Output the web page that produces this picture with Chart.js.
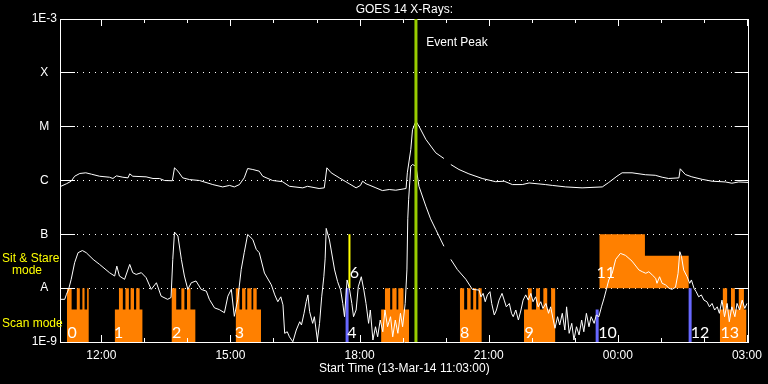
<!DOCTYPE html>
<html>
<head>
<meta charset="utf-8">
<script src="https://cdn.jsdelivr.net/npm/chart.js@4"></script>
<style>
html,body{margin:0;padding:0;background:#000;}
#wrap{width:768px;height:384px;}
</style>
</head>
<body>
<div id="wrap"><canvas id="c" width="768" height="384"></canvas></div>
<script>
// ---- axes ----
const X_MIN = 11.04, X_MAX = 27.04;            // hours since 13-Mar-14 00:00
const xTickHours  = [12,13,14,15,16,17,18,19,20,21,22,23,24,25,26,27];
const xTickLabels = ['12:00','','','15:00','','','18:00','','','21:00','','','00:00','','','03:00'];
const yTickValues = [1e-9,1e-8,1e-7,1e-6,1e-5,1e-4,1e-3];
const yTickLabels = ['1E-9','A','B','C','M','X','1E-3'];

// ---- GOES 14 long channel (1-8 A), [hour, W/m^2] ----
const longChannel = [
 [11.06,7.8e-7],[11.19,8.7e-7],[11.30,9.7e-7],[11.38,1.2e-6],[11.50,1.35e-6],[11.64,1.39e-6],[11.77,1.31e-6],[11.96,1.2e-6],
 [12.19,1.15e-6],[12.27,1.09e-6],[12.35,1.22e-6],[12.50,1.15e-6],[12.62,1.12e-6],[12.66,1.33e-6],[12.73,1.2e-6],[13.04,1.17e-6],
 [13.20,1.09e-6],[13.35,1.09e-6],[13.47,1.0e-6],[13.65,9.9e-7],[13.70,1.72e-6],[13.78,1.49e-6],[13.89,1.12e-6],[14.05,1.04e-6],
 [14.28,1.0e-6],[14.59,8.4e-7],[14.82,7.6e-7],[14.98,8.1e-7],[15.09,7.6e-7],[15.21,8.4e-7],[15.32,1.12e-6],[15.40,1.67e-6],
 [15.52,1.6e-6],[15.67,1.49e-6],[15.75,1.2e-6],[15.98,1.0e-6],[16.21,9.5e-7],[16.37,7.8e-7],[16.68,7.3e-7],[16.79,7.8e-7],
 [17.06,7.1e-7],[17.18,7.3e-7],[17.24,1.72e-6],[17.34,1.39e-6],[17.53,1.12e-6],[17.68,9.5e-7],[17.76,8.7e-7],[17.92,7.3e-7],
 [18.02,8.1e-7],[18.07,9.7e-7],[18.15,8.7e-7],[18.38,7.3e-7],[18.53,6.5e-7],[18.69,6.8e-7],[18.84,6.6e-7],[19.08,7.1e-7],
 [19.11,1.39e-6],[19.19,3.76e-6],[19.23,8.8e-6],[19.31,1.26e-5],[19.38,1.02e-5],[19.54,5.8e-6],[19.77,3.27e-6],[19.96,2.56e-6],
 [20.04,null],[20.12,1.98e-6],[20.31,1.6e-6],[20.54,1.33e-6],[20.85,1.09e-6],[21.16,9.5e-7],[21.36,9.7e-7],[21.55,8.4e-7],
 [21.78,8.4e-7],[21.94,9.0e-7],[22.32,8.4e-7],[22.48,8.1e-7],[22.79,7.6e-7],[23.17,7.3e-7],[23.64,7.6e-7],[23.79,9.2e-7],
 [23.98,1.2e-6],[24.10,1.39e-6],[24.33,1.39e-6],[24.64,1.28e-6],[24.87,1.25e-6],[25.03,1.15e-6],[25.18,1.09e-6],[25.42,1.12e-6],
 [25.45,1.65e-6],[25.57,1.29e-6],[25.72,1.17e-6],[25.96,1.05e-6],[26.19,9.7e-7],[26.50,9.4e-7],[26.65,8.9e-7],[26.81,9.4e-7],
 [27.04,9.2e-7]
];

// ---- GOES 14 short channel (0.5-4 A), [hour, W/m^2] ----
const shortChannel = [
 [11.06,6.2e-9],[11.15,6.2e-9],[11.19,7.7e-9],[11.24,9.5e-9],[11.30,1.46e-8],[11.38,2.97e-8],[11.46,4.56e-8],[11.56,5.0e-8],
 [11.65,4.56e-8],[11.81,3.42e-8],[11.96,2.76e-8],[12.19,1.94e-8],[12.31,1.68e-8],[12.36,2.57e-8],[12.42,1.68e-8],[12.54,1.46e-8],
 [12.66,2.76e-8],[12.73,1.94e-8],[12.81,1.8e-8],[12.93,1.94e-8],[13.04,1.57e-8],[13.16,9.5e-9],[13.28,1.26e-8],[13.39,7.1e-9],
 [13.54,6.2e-9],[13.62,6.7e-9],[13.66,3.42e-8],[13.70,1.1e-7],[13.78,9.3e-8],[13.86,3.42e-8],[13.93,1.68e-8],[14.01,9.5e-9],
 [14.09,1.26e-8],[14.20,1.36e-8],[14.32,9.5e-9],[14.44,8.8e-9],[14.51,6.2e-9],[14.63,4.3e-9],[14.74,4.0e-9],[14.86,3.5e-9],
 [14.94,7.1e-9],[15.02,9.5e-9],[15.09,3.0e-9],[15.17,6.2e-9],[15.25,2.23e-8],[15.32,4.56e-8],[15.40,9.95e-8],[15.52,8.0e-8],
 [15.60,5.25e-8],[15.67,4.56e-8],[15.79,1.91e-8],[15.95,1.15e-8],[16.03,7.5e-9],[16.10,5.6e-9],[16.17,6.9e-9],[16.22,4.9e-9],
 [16.26,1.45e-9],[16.32,1.55e-9],[16.37,1.25e-9],[16.45,1.01e-9],[16.53,1.67e-9],[16.61,2.38e-9],[16.65,2.07e-9],[16.71,3.41e-9],
 [16.76,5.6e-9],[16.80,7.5e-9],[16.84,3.66e-9],[16.91,2.22e-9],[16.95,2.95e-9],[17.02,1.09e-9],[17.07,2.22e-9],[17.12,6.9e-9],
 [17.17,1.63e-8],[17.20,3.5e-8],[17.225,1.29e-7],[17.30,7.85e-8],[17.42,2.18e-8],[17.49,1.32e-8],[17.56,9.2e-9],[17.61,5.2e-9],
 [17.65,2.95e-9],[17.71,1.42e-8],[17.77,9.2e-9],[17.82,5.2e-9],[17.86,2.95e-9],[17.92,3.93e-9],[17.97,1.06e-8],[18.04,1.63e-8],
 [18.10,9.2e-9],[18.15,5.2e-9],[18.21,2.22e-9],[18.25,3.93e-9],[18.31,1.09e-9],[18.37,1.92e-9],[18.42,1.25e-9],[18.48,2.56e-9],
 [18.54,1.55e-9],[18.59,3.93e-9],[18.65,1.92e-9],[18.72,2.95e-9],[18.77,1.25e-9],[18.83,2.56e-9],[18.89,1.45e-9],[18.95,3.41e-9],
 [19.00,1.92e-9],[19.06,5.2e-9],[19.10,2.18e-8],[19.12,1.94e-7],[19.14,4.4e-7],[19.19,1.84e-6],[19.23,1.98e-6],[19.31,1.84e-6],
 [19.38,7.8e-7],[19.54,3.33e-7],[19.65,1.94e-7],[19.77,1.23e-7],[19.96,6.0e-8],[20.04,null],[20.12,3.42e-8],[20.27,2.23e-8],
 [20.47,1.46e-8],[20.62,9.5e-9],[20.78,9.2e-9],[20.82,6.9e-9],[20.87,8.0e-9],[20.92,5.6e-9],[20.97,7.5e-9],[21.03,8.6e-9],
 [21.07,5.2e-9],[21.13,3.17e-9],[21.18,3.93e-9],[21.24,6.0e-9],[21.31,8.0e-9],[21.36,6.0e-9],[21.41,4.5e-9],[21.48,5.2e-9],
 [21.53,3.41e-9],[21.57,2.95e-9],[21.63,3.93e-9],[21.69,2.56e-9],[21.75,3.93e-9],[21.80,6.0e-9],[21.86,7.5e-9],[21.92,6.0e-9],
 [21.98,8.0e-9],[22.03,5.6e-9],[22.09,6.9e-9],[22.15,4.5e-9],[22.21,5.6e-9],[22.26,4.2e-9],[22.33,5.2e-9],[22.39,3.41e-9],
 [22.44,4.5e-9],[22.50,2.56e-9],[22.54,1.8e-9],[22.60,2.95e-9],[22.65,2.07e-9],[22.71,3.41e-9],[22.77,1.67e-9],[22.81,4.5e-9],
 [22.87,1.45e-9],[22.93,2.22e-9],[22.98,1.09e-9],[23.04,1.92e-9],[23.10,1.35e-9],[23.16,2.56e-9],[23.21,1.55e-9],[23.27,3.41e-9],
 [23.33,1.92e-9],[23.38,2.95e-9],[23.45,2.22e-9],[23.50,3.17e-9],[23.56,2.95e-9],[23.62,4.5e-9],[23.68,6.5e-9],[23.73,9.2e-9],
 [23.79,1.42e-8],[23.87,1.89e-8],[23.95,3.42e-8],[24.06,4.43e-8],[24.18,4.06e-8],[24.33,3.18e-8],[24.49,2.18e-8],[24.57,2.02e-8],
 [24.65,1.89e-8],[24.72,2.02e-8],[24.80,1.76e-8],[24.88,1.52e-8],[24.91,1.23e-8],[24.97,1.63e-8],[25.03,1.23e-8],[25.11,1.15e-8],
 [25.19,9.95e-9],[25.26,9.5e-9],[25.34,1.04e-8],[25.40,1.89e-8],[25.44,4.76e-8],[25.48,3.85e-8],[25.53,2.18e-8],[25.61,1.63e-8],
 [25.67,1.23e-8],[25.71,1.42e-8],[25.77,9.95e-9],[25.82,8.6e-9],[25.88,6.9e-9],[25.94,7.5e-9],[26.00,6.0e-9],[26.07,5.6e-9],
 [26.13,4.5e-9],[26.19,5.2e-9],[26.25,3.93e-9],[26.31,4.5e-9],[26.36,3.41e-9],[26.42,6.0e-9],[26.48,2.95e-9],[26.54,5.2e-9],
 [26.59,2.38e-9],[26.65,4.5e-9],[26.72,2.95e-9],[26.77,5.2e-9],[26.83,3.93e-9],[26.89,6.0e-9],[26.95,4.2e-9],[27.00,5.2e-9]
];

// ---- IRIS observation timeline ----
const BASE_LEVEL = 1e-9, SCAN_LEVEL = 4e-9, RASTER_LEVEL = 1e-8;
const scanWindows = [[11.20,11.71],[12.31,12.96],[13.63,14.19],[15.12,15.71],[18.50,19.15],[20.33,20.84],[21.82,22.55],[26.37,26.99]];
const rasterSteps = [
 [[11.20,11.31],[11.43,11.50],[11.56,11.61],[11.67,11.71]],
 [[12.41,12.50],[12.56,12.64],[12.68,12.76],[12.81,12.89]],
 [[13.63,13.74],[13.86,13.93],[13.99,14.07]],
 [[15.12,15.21],[15.27,15.35],[15.39,15.49],[15.53,15.61]],
 [[18.59,18.71],[18.76,18.86],[18.90,19.02]],
 [[20.33,20.43],[20.50,20.58],[20.64,20.71],[20.76,20.84]],
 [[21.91,22.00],[22.10,22.19],[22.27,22.36],[22.45,22.55]],
 [[26.44,26.54],[26.63,26.72],[26.81,26.93]]
];
const stareSegments = [[23.57,24.63],[24.63,25.65]];
const stareTops = [1e-7, 4e-8];

const markerTimes = [17.71, 17.765, 23.52, 25.68, 19.31];
const markerLows  = [1e-9, 1e-8, 1e-9, 1e-9, 1e-9];
const markerHighs = [1e-8, 1e-7, 4e-9, 1e-8, 1e-3];

const obsText = ['0','1','2','3','4','6','8','9','10','11','12','13'];
const obsTime = [11.32,12.40,13.75,15.21,17.82,17.88,20.44,21.94,23.76,23.72,25.91,26.60];
const obsFlux = [1.5e-9,1.5e-9,1.5e-9,1.5e-9,1.5e-9,1.95e-8,1.5e-9,1.5e-9,1.5e-9,1.95e-8,1.5e-9,1.5e-9];

const eventText = 'Event Peak', eventTime = 19.55, eventFlux = 3.6e-4;
const modeLabels = ['Sit & Stare', '   mode', 'Scan mode'];
const modeFlux = [3.6e-8, 2.1e-8, 2.2e-9];

// ---- styles ----
const ORANGE = '#ff8000', BLUE = '#6868ff', YELLOW = '#ffff00', GREEN = '#99cc00';
const markerColors = [BLUE, YELLOW, BLUE, BLUE, GREEN];
const markerWidths = [3, 2, 3, 3, 3];
const FONT = 'Liberation Sans';

// ---- build datasets ----
function toXY(arr){ return arr.map(p => ({x:p[0], y:p[1]})); }
function scanContour(win, steps){
  const pts = [{x:win[0], y:BASE_LEVEL}, {x:win[0], y:SCAN_LEVEL}];
  steps.forEach(([s,e]) => {
    pts.push({x:s,y:SCAN_LEVEL},{x:s,y:RASTER_LEVEL},{x:e,y:RASTER_LEVEL},{x:e,y:SCAN_LEVEL});
  });
  pts.push({x:win[1], y:SCAN_LEVEL}, {x:win[1], y:BASE_LEVEL});
  return pts;
}
function stareContour(){
  const pts = [];
  stareSegments.forEach(([s,e], i) => {
    pts.push({x:s, y:(i===0 ? RASTER_LEVEL : stareTops[i-1])}, {x:s, y:stareTops[i]}, {x:e, y:stareTops[i]});
  });
  pts.push({x:stareSegments[stareSegments.length-1][1], y:RASTER_LEVEL});
  return pts;
}

const datasets = [];
datasets.push({ data: toXY(longChannel), borderColor:'#fff', borderWidth:1, pointRadius:0, fill:false, spanGaps:false, order:1 });
datasets.push({ data: toXY(shortChannel), borderColor:'#fff', borderWidth:1, pointRadius:0, fill:false, spanGaps:false, order:1 });
markerTimes.forEach((t, i) => {
  datasets.push({
    data: [{x:t, y:markerLows[i]}, {x:t, y:markerHighs[i]}],
    borderColor: markerColors[i], borderWidth: markerWidths[i], pointRadius:0, fill:false,
    order: (i === 4 ? 0 : 2)
  });
});
scanWindows.forEach((w, i) => {
  datasets.push({ data: scanContour(w, rasterSteps[i]), borderWidth:0, borderColor:'rgba(0,0,0,0)',
    backgroundColor: ORANGE, fill:'start', pointRadius:0, order:3 });
});
datasets.push({ data: stareContour(), borderWidth:0, borderColor:'rgba(0,0,0,0)',
  backgroundColor: ORANGE, fill:{value: RASTER_LEVEL}, pointRadius:0, order:3 });

// ---- overlay: inward tick marks and annotations ----
const overlay = {
  id: 'overlay',
  afterDatasetsDraw(chart) {
    const {ctx, scales:{x, y}} = chart;
    ctx.save();
    ctx.fillStyle = '#fff';
    ctx.textAlign = 'center';
    ctx.textBaseline = 'middle';
    ctx.font = '16px Lato';
    obsText.forEach((s, i) => ctx.fillText(s, x.getPixelForValue(obsTime[i]), y.getPixelForValue(obsFlux[i])));
    ctx.font = '12px "' + FONT + '"';
    ctx.textAlign = 'left';
    ctx.fillText(eventText, x.getPixelForValue(eventTime), y.getPixelForValue(eventFlux));
    ctx.restore();
  },
  afterDraw(chart) {
    const {ctx, chartArea:a, scales:{x, y}} = chart;
    ctx.save();
    ctx.strokeStyle = '#fff';
    ctx.lineWidth = 1;
    ctx.beginPath();
    x.ticks.forEach((t, i) => {
      const px = Math.round(x.getPixelForValue(t.value)) + 0.5;
      const len = xTickLabels[i] ? 7 : 4;
      ctx.moveTo(px, a.top); ctx.lineTo(px, a.top + len);
      ctx.moveTo(px, a.bottom); ctx.lineTo(px, a.bottom - len);
    });
    y.ticks.forEach(t => {
      const py = Math.round(y.getPixelForValue(t.value) - 0.5) + 0.5;
      ctx.moveTo(a.left, py); ctx.lineTo(a.left + 15, py);
      ctx.moveTo(a.right - 14, py); ctx.lineTo(a.right, py);
    });
    ctx.stroke();
    ctx.fillStyle = YELLOW;
    ctx.font = '12px "' + FONT + '"';
    ctx.textAlign = 'left';
    ctx.textBaseline = 'middle';
    modeLabels.forEach((s, i) => ctx.fillText(s, 2, y.getPixelForValue(modeFlux[i])));
    ctx.restore();
  }
};

Chart.defaults.font.family = FONT;
Chart.defaults.color = '#fff';

new Chart(document.getElementById('c'), {
  type: 'line',
  data: { datasets },
  options: {
    responsive: false,
    animation: false,
    devicePixelRatio: 1,
    layout: { padding: 0 },
    plugins: { legend: { display:false }, tooltip: { enabled:false }, title: { display:false } },
    elements: { line: { tension:0 }, point: { radius:0 } },
    scales: {
      x: {
        type:'linear', position:'bottom', min:X_MIN, max:X_MAX,
        afterBuildTicks: s => { s.ticks = xTickHours.map(v => ({value:v})); },
        ticks: { autoSkip:false, maxRotation:0, color:'#fff', font:{family:FONT, size:12}, padding:6,
                 callback: (v, i) => xTickLabels[i] },
        grid: { display:false, drawTicks:false },
        border: { display:true, color:'#fff', width:1 },
        title: { display:true, text:'Start Time (13-Mar-14 11:03:00)', color:'#fff',
                 font:{family:FONT, size:12}, padding:{top:0, bottom:8.5} },
        afterFit: s => { s.height = 42; }
      },
      xTop: {
        type:'linear', position:'top', min:X_MIN, max:X_MAX,
        ticks: { display:false },
        grid: { display:false, drawTicks:false },
        border: { display:true, color:'#fff', width:1 },
        title: { display:true, text:'GOES 14 X-Rays:', color:'#fff',
                 font:{family:FONT, size:12}, padding:{top:2.3, bottom:0} },
        afterFit: s => { s.height = 19; }
      },
      y: {
        type:'logarithmic', position:'left', min:1e-9, max:1e-3,
        afterBuildTicks: s => { s.ticks = yTickValues.map(v => ({value:v})); },
        ticks: { color:'#fff', font:{family:FONT, size:12}, padding:3, crossAlign:'center',
                 callback: (v, i) => yTickLabels[i] },
        grid: { display:true, color:'#fff', lineWidth:1, drawTicks:false },
        border: { display:true, color:'#fff', width:1, dash:[1,5], dashOffset:2 },
        afterFit: s => { s.width = 60; }
      },
      yRight: {
        type:'logarithmic', position:'right', min:1e-9, max:1e-3,
        ticks: { display:false },
        grid: { display:false, drawTicks:false },
        border: { display:true, color:'#fff', width:1 },
        afterFit: s => { s.width = 18; }
      }
    }
  },
  plugins: [overlay]
});
</script>
</body>
</html>
